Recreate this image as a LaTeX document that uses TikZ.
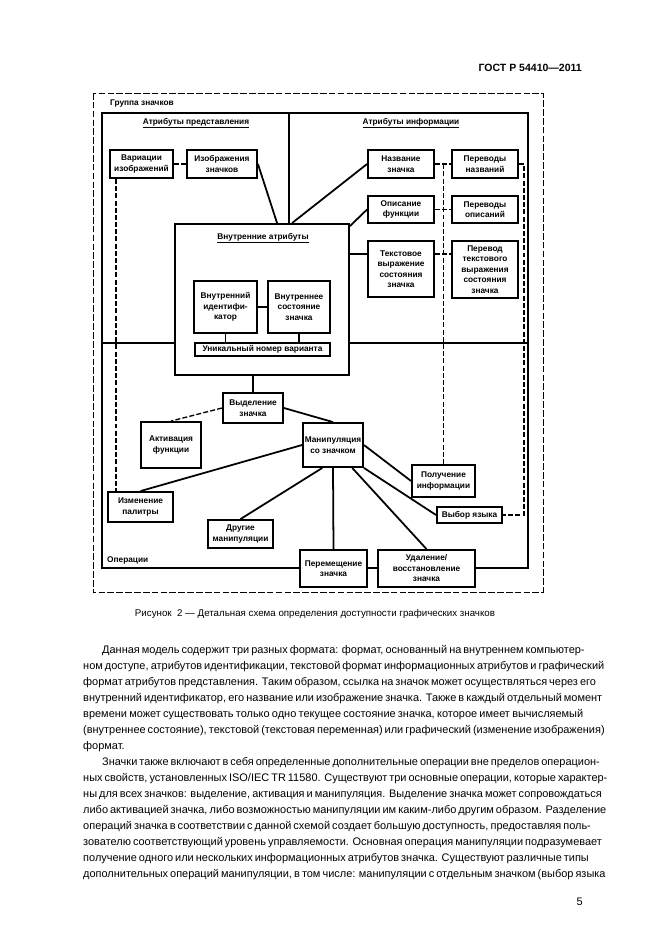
\documentclass[tikz,border=0pt]{standalone}
\usepackage{fontspec}
\setmainfont{Liberation Sans}
\usetikzlibrary{calc}

\newdimen\px \px=0.3176mm
\newcommand{\diafont}{\fontsize{7.5}{9.5}\selectfont\bfseries}
\newcommand{\bodyfont}{\fontsize{9.9}{12}\selectfont}

\begin{document}
\begin{tikzpicture}[
  x=0.3176mm, y=-0.3176mm,
  box/.style={draw, line width=1.7pt, fill=white, align=center, inner sep=0pt, font=\diafont},
  dims/.style 2 args={minimum width=#1*\px, minimum height=#2*\px},
  lnk/.style={line width=1.6pt},
  dsh/.style={line width=1.2pt, dash pattern=on 4.5pt off 2pt},
  lbl/.style={inner sep=0pt, font=\diafont},
  txtline/.style={anchor=west, inner sep=0pt, font=\bodyfont}
]
\useasboundingbox (0,0) rectangle (661,935);

% page header
\node [anchor=east, inner sep=0pt, font=\fontsize{9.5}{11}\selectfont\bfseries] (hdr) at (582,68) {ГОСТ Р 54410—2011};

% frames and dividers
\draw [line width=0.9pt, dash pattern=on 6pt off 2pt] (93,93) rectangle (543,592);
\draw [lnk] (102,113) rectangle (528,568);
\draw [lnk] (289,113) -- (289,224);
\draw [lnk] (102,343) -- (528,343);

\node [lbl, anchor=west] (grp) at (110,104) {Группа значков};
\node [lbl, anchor=west] (ops) at (107,560) {Операции};
\node [lbl] (prs) at (196,123) {\underline{Атрибуты представления}};
\node [lbl] (inf) at (411,123) {\underline{Атрибуты информации}};

% presentation attributes
\node [box, dims={63}{28}] (varimg) at (141.5,164) {Вариации\\изображений};
\node [box, dims={70}{28}] (img) at (222,164) {Изображения\\значков};

% information attributes
\node [box, dims={66}{28}] (name) at (401,164) {Название\\значка};
\node [box, dims={66}{28}] (trnames) at (485,164) {Переводы\\названий};
\node [box, dims={66}{27}] (descr) at (401,209.5) {Описание\\функции};
\node [box, dims={66}{27}] (trdescr) at (485,209.5) {Переводы\\описаний};
\node [box, dims={66}{56}] (textexpr) at (401,269) {Текстовое\\выражение\\состояния\\значка};
\node [box, dims={66}{57}] (trtext) at (485,269.5) {Перевод\\текстового\\выражения\\состояния\\значка};

% internal attributes
\node [box, dims={174}{151}] (intattr) at (262,299.5) {};
\node [lbl] (intttl) at (263,238) {\underline{Внутренние атрибуты}};
\node [box, dims={63}{52}] (intid) at (225.5,307) {Внутренний\\идентифи-\\катор};
\node [box, dims={62}{52}] (intstate) at (299,307) {Внутреннее\\состояние\\значка};
\node [box, dims={135}{13}] (uniq) at (262.5,349.5) {Уникальный номер варианта};

% operations
\node [box, dims={60}{30}] (select) at (253,408) {Выделение\\значка};
\node [box, dims={60}{46}] (activ) at (171,445) {Активация\\функции};
\node [box, dims={60}{44}] (manip) at (333,445) {Манипуляция\\со значком};
\node [box, dims={65}{30}] (palette) at (140.5,507) {Изменение\\палитры};
\node [box, dims={65}{28}] (other) at (240.5,534) {Другие\\манипуляции};
\node [box, dims={67}{37}] (move) at (333.5,568.5) {Перемещение\\значка};
\node [box, dims={97}{37}] (delete) at (426.5,568.5) {Удаление/\\восстановление\\значка};
\node [box, dims={63}{32}] (getinfo) at (443.5,481) {Получение\\информации};
\node [box, dims={65}{16}] (lang) at (469.5,515) {Выбор языка};

% connectors
\coordinate (vl) at ($(varimg.south west)+(7,0)$);
\coordinate (tx) at ($(textexpr.west)+(0,-15)$);
\coordinate (rd) at ($(trnames.east)+(5,0)$);

\draw [dsh] (varimg) -- (img);
\draw [dsh] (vl) -- (vl |- palette.north);
\draw [lnk] (img.east) -- ($(intattr.north west)+(103,0)$);
\draw [lnk] (name.west) -- ($(intattr.north west)+(118,0)$);
\draw [lnk] (descr.west) -- ($(intattr.north east)+(0,3)$);
\draw [lnk] (tx -| intattr.east) -- (tx);
\draw [dsh] (name) -- (trnames);
\draw [dsh] (descr) -- (trdescr);
\draw [dsh] (tx -| textexpr.east) -- (tx -| trtext.west);
\draw [dsh] (getinfo.north) -- (getinfo.north |- name.east);
\draw [dsh] (trnames.east) -- (rd) |- (lang.east);

\draw [lnk] (intid) -- (intstate);
\draw [lnk] (intid.south) -- (intid.south |- uniq.north);
\draw [lnk] (intstate.south) -- (intstate.south |- uniq.north);

\draw [lnk] (select.north |- intattr.south) -- (select.north);
\draw [dsh] (select.west) -- (activ.north);
\draw [lnk] (select.east) -- (manip.north);
\draw [lnk] (manip.west) -- (palette.north);
\draw [lnk] (manip.245) -- (other.north);
\draw [lnk] (manip.south) -- (move.north);
\draw [lnk] (manip.310) -- (delete.north);
\draw [lnk] (manip.east) -- (getinfo.west);
\draw [lnk] (manip.south east) -- (lang.west);

% caption
\node [inner sep=0pt, font=\fontsize{8.8}{10}\selectfont] (cap) at (315,614) {Рисунок~~2 — Детальная схема определения доступности графических значков};

% body text
\node [txtline] (p1) at (102,651) {\makebox[481\px][s]{Данная модель содержит три разных формата: формат, основанный на внутреннем компьютер-}};
\node [txtline] (p2) at (83,667) {\makebox[500\px][s]{ном доступе, атрибутов идентификации, текстовой формат информационных атрибутов и графический}};
\node [txtline] (p3) at (83,683) {\makebox[500\px][s]{формат атрибутов представления. Таким образом, ссылка на значок может осуществляться через его}};
\node [txtline] (p4) at (83,699) {\makebox[500\px][s]{внутренний идентификатор, его название или изображение значка. Также в каждый отдельный момент}};
\node [txtline] (p5) at (83,715) {\makebox[500\px][s]{времени может существовать только одно текущее состояние значка, которое имеет вычисляемый}};
\node [txtline] (p6) at (83,731) {\makebox[500\px][s]{(внутреннее состояние), текстовой (текстовая переменная) или графический (изменение изображения)}};
\node [txtline] (p7) at (83,747) {формат.};
\node [txtline] (p8) at (102,763) {\makebox[481\px][s]{Значки также включают в себя определенные дополнительные операции вне пределов операцион-}};
\node [txtline] (p9) at (83,779) {\makebox[500\px][s]{ных свойств, установленных ISO/IEC TR 11580. Существуют три основные операции, которые характер-}};
\node [txtline] (p10) at (83,795) {\makebox[500\px][s]{ны для всех значков: выделение, активация и манипуляция. Выделение значка может сопровождаться}};
\node [txtline] (p11) at (83,811) {\makebox[500\px][s]{либо активацией значка, либо возможностью манипуляции им каким-либо другим образом. Разделение}};
\node [txtline] (p12) at (83,827) {\makebox[500\px][s]{операций значка в соответствии с данной схемой создает большую доступность, предоставляя поль-}};
\node [txtline] (p13) at (83,843) {\makebox[500\px][s]{зователю соответствующий уровень управляемости. Основная операция манипуляции подразумевает}};
\node [txtline] (p14) at (83,859) {\makebox[500\px][s]{получение одного или нескольких информационных атрибутов значка. Существуют различные типы}};
\node [txtline] (p15) at (83,875) {\makebox[500\px][s]{дополнительных операций манипуляции, в том числе: манипуляции с отдельным значком (выбор языка}};
\node [anchor=east, inner sep=0pt, font=\bodyfont] (pgno) at (583,902) {5};
\end{tikzpicture}
\end{document}
